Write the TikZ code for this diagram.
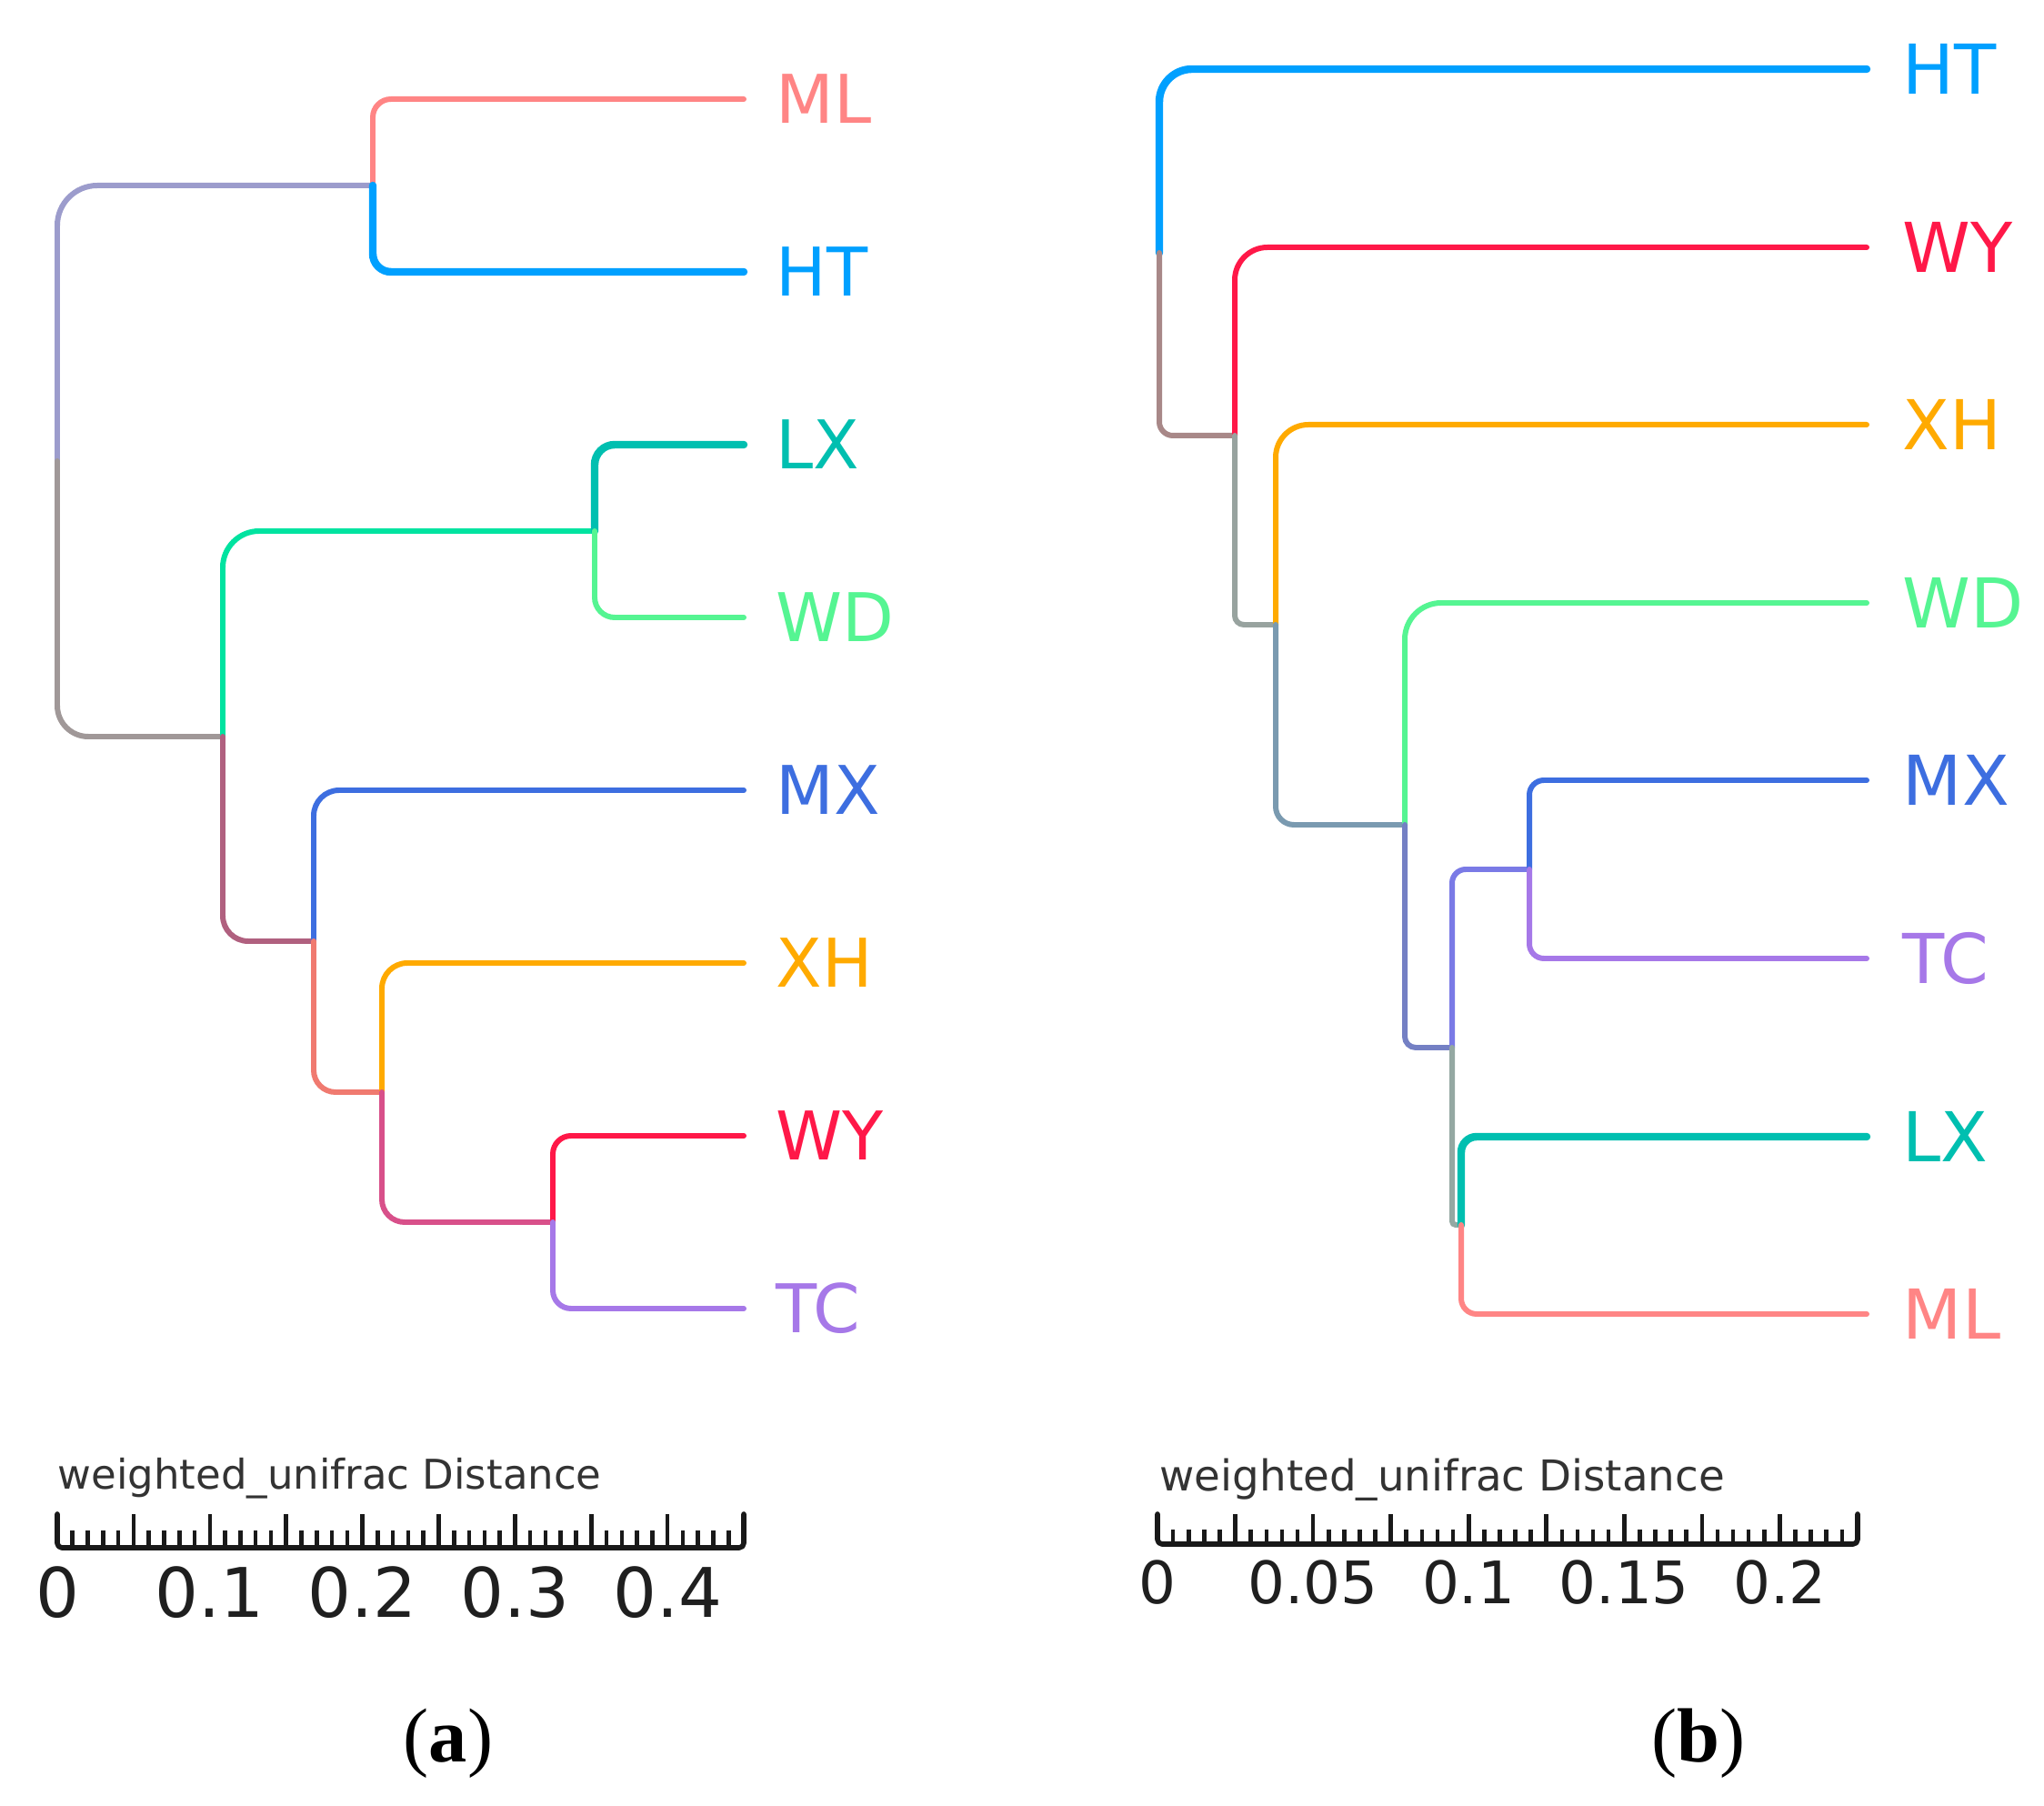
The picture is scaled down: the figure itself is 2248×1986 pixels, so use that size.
\documentclass[tikz,border=0pt]{standalone}
\usepackage{fontspec}
\setmainfont{Liberation Serif}
\newfontfamily\dejavu{DejaVu Sans}
\usetikzlibrary{positioning}

% leaf colours
\definecolor{cML}{HTML}{FF8585}
\definecolor{cHT}{HTML}{00A0FF}
\definecolor{cLX}{HTML}{00BFB0}
\definecolor{cWD}{HTML}{55F592}
\definecolor{cMX}{HTML}{3D6EE0}
\definecolor{cXH}{HTML}{FFAA00}
\definecolor{cWY}{HTML}{FF1848}
\definecolor{cTC}{HTML}{A678E8}
% inner branch colours
\definecolor{aUp}{HTML}{9C9CCC}
\definecolor{aDn}{HTML}{A09898}
\definecolor{aGreen}{HTML}{00E3A0}
\definecolor{aMauve}{HTML}{B0607F}
\definecolor{aSalmon}{HTML}{F07A70}
\definecolor{aPink}{HTML}{D8508A}
\definecolor{bDn}{HTML}{A88888}
\definecolor{bGrey}{HTML}{98A39F}
\definecolor{bSteel}{HTML}{7A9AB0}
\definecolor{bSlate}{HTML}{7480C4}
\definecolor{bPeri}{HTML}{7A7AE6}
\definecolor{bSage}{HTML}{94A8A2}

\begin{document}
\begin{tikzpicture}[x=0.01cm,y=-0.01cm,line cap=round]
        \tikzstyle{edge}=[line width=1.7pt]
        \tikzstyle{heavy}=[line width=2.4pt]
        \tikzstyle{leafa}=[inner sep=0pt,font=\dejavu\fontsize{21}{25}\selectfont]
        \tikzstyle{leafb}=[inner sep=0pt,font=\dejavu\fontsize{21.5}{26}\selectfont]
        \tikzstyle{axisline}=[line width=1.6pt,black!90,line join=round,rounded corners=0.5mm]
        \tikzstyle{tick}=[line width=1.3pt,black!90,line cap=butt]
        \tikzstyle{title}=[inner sep=0pt,anchor=base west,text=black!80]
        \tikzstyle{ticklab}=[inner sep=0pt,anchor=north,text=black!88]
        \tikzstyle{caption}=[inner sep=0pt,anchor=base,font=\fontsize{24}{28}\selectfont]

        \fill[white] (0,0) rectangle (2248,1986);

        % ---------- (a) ----------
        \begin{scope}
         \coordinate (aroot) at (63,507);
         \coordinate (aab) at (410,204);
         \coordinate (an1) at (245,810);
         \coordinate (alw) at (654,584);
         \coordinate (an2) at (345,1035);
         \coordinate (an3) at (420,1201);
         \coordinate (an4) at (608,1344);

         \coordinate (aML) at (818,109);
         \coordinate (aHT) at (818,299);
         \coordinate (aLX) at (818,489);
         \coordinate (aWD) at (818,679);
         \coordinate (aMX) at (818,869);
         \coordinate (aXH) at (818,1059);
         \coordinate (aWY) at (818,1249);
         \coordinate (aTC) at (818,1439);

         \draw[edge,aUp,rounded corners=4.4mm] (aroot) |- (aab);
         \draw[edge,aDn,rounded corners=3.4mm] (aroot) |- (an1);
         \draw[edge,cML,rounded corners=2mm] (aab) |- (aML);
         \draw[edge,heavy,cHT,rounded corners=2mm] (aab) |- (aHT);
         \draw[edge,aGreen,rounded corners=4mm] (an1) |- (alw);
         \draw[edge,aMauve,rounded corners=2.8mm] (an1) |- (an2);
         \draw[edge,heavy,cLX,rounded corners=2.2mm] (alw) |- (aLX);
         \draw[edge,cWD,rounded corners=2.2mm] (alw) |- (aWD);
         \draw[edge,cMX,rounded corners=2.8mm] (an2) |- (aMX);
         \draw[edge,aSalmon,rounded corners=2.4mm] (an2) |- (an3);
         \draw[edge,cXH,rounded corners=2.8mm] (an3) |- (aXH);
         \draw[edge,aPink,rounded corners=2.5mm] (an3) |- (an4);
         \draw[edge,cWY,rounded corners=2mm] (an4) |- (aWY);
         \draw[edge,cTC,rounded corners=2mm] (an4) |- (aTC);

         \node[leafa,cML,right=0.35cm of aML] (tML) {ML};
         \node[leafa,cHT,right=0.35cm of aHT] (tHT) {HT};
         \node[leafa,cLX,right=0.35cm of aLX] (tLX) {LX};
         \node[leafa,cWD,right=0.35cm of aWD] (tWD) {WD};
         \node[leafa,cMX,right=0.35cm of aMX] (tMX) {MX};
         \node[leafa,cXH,right=0.35cm of aXH] (tXH) {XH};
         \node[leafa,cWY,right=0.35cm of aWY] (tWY) {WY};
         \node[leafa,cTC,right=0.35cm of aTC] (tTC) {TC};

         % scale
         \node[title,font=\dejavu\fontsize{12.8}{15}\selectfont] (atitle) at (63,1637) {weighted\_unifrac Distance};
         \coordinate (a0t) at (63,1665);
         \coordinate (a0) at (63,1702);
         \coordinate (a1) at (818,1702);
         \coordinate (a1t) at (818,1665);
         \draw[axisline] (a0t) -- (a0) -- (a1) -- (a1t);
         \foreach \i in {1,...,44} \draw[tick] ({63+16.78*\i},1702) -- ++(0,-19);
         \foreach \i in {5,10,...,40} \draw[tick] ({63+16.78*\i},1702) -- ++(0,-37);
         \foreach \v/\n [count=\k from 0] in {0/0,0.1/1,0.2/2,0.3/3,0.4/4}
           \node[ticklab,font=\dejavu\fontsize{21.4}{25}\selectfont] (alab\n) at ({63+167.8*\k},1722) {\v};

         \node[caption] (capa) at (493,1937) {(\textbf{a})};
        \end{scope}

        % ---------- (b) ----------
        \begin{scope}
         \coordinate (broot) at (1275,278);
         \coordinate (bn1) at (1358,479);
         \coordinate (bn2) at (1403,687);
         \coordinate (bn3) at (1545,907);
         \coordinate (bn4) at (1597,1152);
         \coordinate (bn5) at (1682,956);
         \coordinate (bn6) at (1607,1347);

         \coordinate (bHT) at (2053,76);
         \coordinate (bWY) at (2053,272);
         \coordinate (bXH) at (2053,467);
         \coordinate (bWD) at (2053,663);
         \coordinate (bMX) at (2053,858);
         \coordinate (bTC) at (2053,1054);
         \coordinate (bLX) at (2053,1250);
         \coordinate (bML) at (2053,1445);

         \draw[edge,heavy,cHT,rounded corners=3.6mm] (broot) |- (bHT);
         \draw[edge,bDn,rounded corners=1.5mm] (broot) |- (bn1);
         \draw[edge,cWY,rounded corners=3.6mm] (bn1) |- (bWY);
         \draw[edge,bGrey,rounded corners=1mm] (bn1) |- (bn2);
         \draw[edge,cXH,rounded corners=3.6mm] (bn2) |- (bXH);
         \draw[edge,bSteel,rounded corners=2mm] (bn2) |- (bn3);
         \draw[edge,cWD,rounded corners=4mm] (bn3) |- (bWD);
         \draw[edge,bSlate,rounded corners=1.2mm] (bn3) |- (bn4);
         \draw[edge,bPeri,rounded corners=1.5mm] (bn4) |- (bn5);
         \draw[edge,bSage,rounded corners=0.4mm] (bn4) |- (bn6);
         \draw[edge,cMX,rounded corners=1.6mm] (bn5) |- (bMX);
         \draw[edge,cTC,rounded corners=1.6mm] (bn5) |- (bTC);
         \draw[edge,heavy,cLX,rounded corners=1.7mm] (bn6) |- (bLX);
         \draw[edge,cML,rounded corners=1.7mm] (bn6) |- (bML);

         \node[leafb,cHT,right=0.39cm of bHT] (uHT) {HT};
         \node[leafb,cWY,right=0.39cm of bWY] (uWY) {WY};
         \node[leafb,cXH,right=0.39cm of bXH] (uXH) {XH};
         \node[leafb,cWD,right=0.39cm of bWD] (uWD) {WD};
         \node[leafb,cMX,right=0.39cm of bMX] (uMX) {MX};
         \node[leafb,cTC,right=0.39cm of bTC] (uTC) {TC};
         \node[leafb,cLX,right=0.39cm of bLX] (uLX) {LX};
         \node[leafb,cML,right=0.39cm of bML] (uML) {ML};

         % scale
         \node[title,font=\dejavu\fontsize{13.3}{16}\selectfont] (btitle) at (1275,1639) {weighted\_unifrac Distance};
         \coordinate (b0t) at (1273,1665);
         \coordinate (b0) at (1273,1698);
         \coordinate (b1) at (2043,1698);
         \coordinate (b1t) at (2043,1665);
         \draw[axisline] (b0t) -- (b0) -- (b1) -- (b1t);
         \foreach \i in {1,...,44} \draw[tick] ({1273+17.11*\i},1698) -- ++(0,-16);
         \foreach \i in {5,10,...,40} \draw[tick] ({1273+17.11*\i},1698) -- ++(0,-33);
         \foreach \v/\n [count=\k from 0] in {0/0,0.05/1,0.1/2,0.15/3,0.2/4}
           \node[ticklab,font=\dejavu\fontsize{18.3}{22}\selectfont] (blab\n) at ({1273+171.1*\k},1715) {\v};

         \node[caption] (capb) at (1868,1937) {(\textbf{b})};
        \end{scope}
\end{tikzpicture}
\end{document}
